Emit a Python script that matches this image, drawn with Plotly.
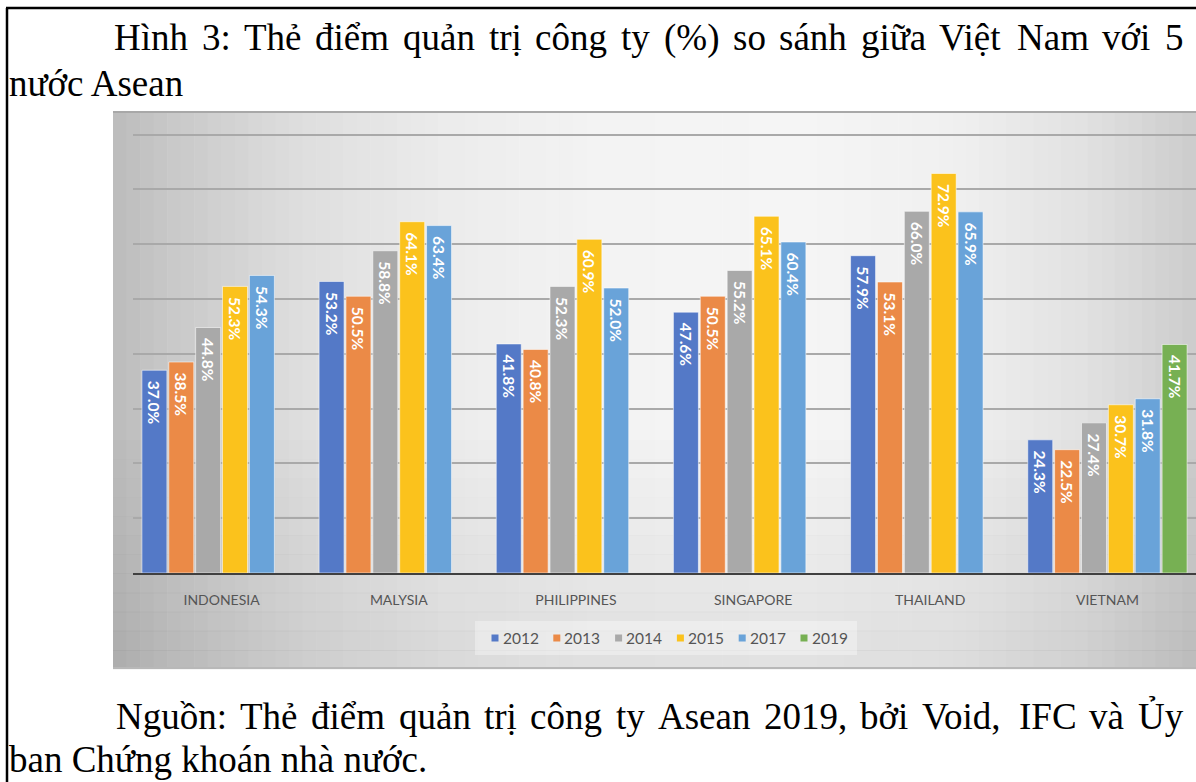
import unicodedata
import plotly.graph_objects as go

# ---------------- data ----------------
categories = ["INDONESIA", "MALYSIA", "PHILIPPINES", "SINGAPORE", "THAILAND", "VIETNAM"]
years = ["2012", "2013", "2014", "2015", "2017", "2019"]
v2012 = [37.0, 53.2, 41.8, 47.6, 57.9, 24.3]
v2013 = [38.5, 50.5, 40.8, 50.5, 53.1, 22.5]
v2014 = [44.8, 58.8, 52.3, 55.2, 66.0, 27.4]
v2015 = [52.3, 64.1, 60.9, 65.1, 72.9, 30.7]
v2017 = [54.3, 63.4, 52.0, 60.4, 65.9, 31.8]
v2019 = [None, None, None, None, None, 41.7]
series = [v2012, v2013, v2014, v2015, v2017, v2019]

title_line1 = "Hình 3: Thẻ điểm quản trị công ty (%) so sánh giữa Việt Nam với 5"
title_line2 = "nước Asean"
source_line1 = "Nguồn: Thẻ điểm quản trị công ty Asean 2019, bởi Void, IFC và Ủy"
source_line2 = "ban Chứng khoán nhà nước."

# ---------------- style ----------------
colors = ["#5479c7", "#eb8a47", "#a9a9a9", "#fbc21c", "#69a3d9", "#77b053"]
W, H = 1196, 782
SERIF = "Liberation Serif, Times New Roman, serif"
SANS = "Lato, Open Sans, sans-serif"


def X(px):
    return px / W


def Y(py):
    return 1 - py / H


# Times/Liberation Serif advance widths (1/1000 em) for justification
TW = dict(zip("abcdefghijklmnopqrstuvwxyz",
              [444, 500, 444, 500, 444, 333, 500, 500, 278, 278, 500, 278, 778,
               500, 500, 500, 500, 333, 389, 278, 500, 500, 722, 500, 500, 444]))
TW.update(dict(zip("ABCDEFGHIJKLMNOPQRSTUVWXYZ",
                   [722, 667, 667, 722, 611, 556, 722, 722, 333, 389, 722, 611, 889,
                    722, 722, 556, 722, 667, 556, 611, 722, 722, 944, 722, 722, 611])))
TW.update({d: 500 for d in "0123456789"})
TW.update({":": 278, ".": 250, ",": 250, "(": 333, ")": 333, "%": 833, " ": 250})


def text_w(s, size):
    w = 0
    for ch in s:
        if ch in "đĐ":
            base = "d" if ch == "đ" else "D"
            extra = 0
        else:
            dec = unicodedata.normalize("NFD", ch)
            base = dec[0]
            extra = 30 if "\u031b" in dec else 0
        w += TW.get(base, 500) + extra
    return w * size / 1000


def justified(line, x0, x1, ymid, size):
    words = line.split(" ")
    widths = [text_w(w, size) for w in words]
    gap = (x1 - x0 - sum(widths)) / (len(words) - 1)
    anns = []
    x = x0
    for w, wd in zip(words, widths):
        anns.append(dict(text=w, x=X(x), y=Y(ymid), xref="paper", yref="paper",
                         xanchor="left", yanchor="middle", showarrow=False,
                         borderpad=0, borderwidth=0,
                         font=dict(family=SERIF, size=size, color="black")))
        x += wd + gap
    return anns


fig = go.Figure()
for yr, vals, col in zip(years, series, colors):
    fig.add_trace(go.Bar(
        x=categories, y=vals, name=yr,
        marker=dict(color=col, line=dict(color="rgba(255,255,255,0.55)", width=1)),
        texttemplate="\u00a0\u00a0%{y:.1f}%",
        textposition="inside", insidetextanchor="end", textangle=90,
        constraintext="none",
        textfont=dict(family=SANS, size=15.5, color="white", weight="bold"),
        cliponaxis=False, showlegend=False, hoverinfo="x+y+name",
    ))

axis_px = 573.0
ppu = 5.48
ymax = 82
fig.update_layout(
    width=W, height=H,
    margin=dict(l=0, r=0, t=0, b=0),
    paper_bgcolor="white", plot_bgcolor="rgba(0,0,0,0)",
    barmode="group", bargap=0.09, bargroupgap=0.07,
    xaxis=dict(domain=[X(133), 1], type="category", showline=True,
               linecolor="#404040", linewidth=2, ticks="outside", ticklen=13,
               tickcolor="rgba(0,0,0,0)", showgrid=False, zeroline=False,
               tickfont=dict(family=SANS, size=14, color="#555555"), fixedrange=True),
    yaxis=dict(domain=[Y(axis_px), Y(axis_px - ymax * ppu)], range=[0, ymax],
               tick0=0, dtick=10, showgrid=True, gridcolor="#a9a9a9", gridwidth=1.6,
               showticklabels=False, zeroline=False, showline=False, fixedrange=True),
)

shapes = []
# chart picture background gradient (horizontal)
stops = [(113, 188), (180, 202), (300, 222), (450, 236), (600, 243), (800, 245),
         (950, 240), (1080, 226), (1196, 204)]


def gray_at(px):
    for (xa, ga), (xb, gb) in zip(stops[:-1], stops[1:]):
        if xa <= px <= xb:
            return ga + (gb - ga) * (px - xa) / (xb - xa)
    return stops[-1][1]


left, right, top, bottom = 113, 1196, 111, 669
n = 80
step = (right - left) / n
for i in range(n):
    xa = left + i * step
    g = int(round(gray_at(xa + step / 2)))
    shapes.append(dict(type="rect", xref="paper", yref="paper", layer="below",
                       x0=X(xa), x1=X(xa + step + 0.6), y0=Y(bottom), y1=Y(top),
                       line=dict(width=0), fillcolor=f"rgb({g},{g},{g})"))
# darker toward the bottom
rows = 12
y_start = 440
rh = (bottom - y_start) / rows
for j in range(rows):
    ya = y_start + j * rh
    a = 0.075 * (j + 1) / rows
    shapes.append(dict(type="rect", xref="paper", yref="paper", layer="below",
                       x0=X(left), x1=X(right), y0=Y(ya + rh + 0.5), y1=Y(ya),
                       line=dict(width=0), fillcolor=f"rgba(0,0,0,{a:.4f})"))
# picture edges
shapes.append(dict(type="line", xref="paper", yref="paper", layer="below",
                   x0=X(left), x1=X(right), y0=Y(top + 1), y1=Y(top + 1),
                   line=dict(color="#a8a8a8", width=2)))
shapes.append(dict(type="line", xref="paper", yref="paper", layer="below",
                   x0=X(left), x1=X(right), y0=Y(bottom - 1), y1=Y(bottom - 1),
                   line=dict(color="#b8b8b8", width=2)))
# legend box
shapes.append(dict(type="rect", xref="paper", yref="paper", layer="below",
                   x0=X(475), x1=X(857), y0=Y(655), y1=Y(621),
                   line=dict(width=0), fillcolor="rgba(255,255,255,0.35)"))
# outer black frame (page box)
shapes.append(dict(type="line", xref="paper", yref="paper", layer="above",
                   x0=X(6), x1=X(1200), y0=Y(8), y1=Y(8),
                   line=dict(color="black", width=2.5)))
shapes.append(dict(type="line", xref="paper", yref="paper", layer="above",
                   x0=X(7), x1=X(7), y0=Y(8), y1=Y(790),
                   line=dict(color="black", width=2.5)))

annotations = []
# manual legend
leg_x0, leg_dx, leg_y = 491.5, 61.8, 638
for i, (yr, col) in enumerate(zip(years, colors)):
    sx = leg_x0 + i * leg_dx
    shapes.append(dict(type="rect", xref="paper", yref="paper", layer="above",
                       x0=X(sx), x1=X(sx + 7), y0=Y(leg_y + 3.5), y1=Y(leg_y - 3.5),
                       line=dict(width=0), fillcolor=col))
    annotations.append(dict(text=yr, x=X(sx + 10), y=Y(leg_y), xref="paper", yref="paper",
                            xanchor="left", yanchor="middle", showarrow=False,
                            borderpad=0, font=dict(family=SANS, size=15.5, color="#555555")))

# caption text (justified first lines)
annotations += justified(title_line1, 114, 1183, 38, 37)
annotations.append(dict(text=title_line2, x=X(8), y=Y(83), xref="paper", yref="paper",
                        xanchor="left", yanchor="middle", showarrow=False, borderpad=0,
                        font=dict(family=SERIF, size=37, color="black")))
annotations += justified(source_line1, 116, 1183, 716, 37)
annotations.append(dict(text=source_line2, x=X(8), y=Y(759), xref="paper", yref="paper",
                        xanchor="left", yanchor="middle", showarrow=False, borderpad=0,
                        font=dict(family=SERIF, size=37, color="black")))

fig.update_layout(shapes=shapes, annotations=annotations)
fig.write_html("out.html")
